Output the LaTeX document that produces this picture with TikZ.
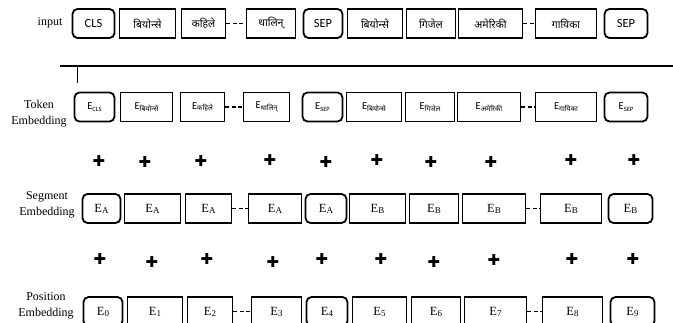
\documentclass[tikz,border=0pt]{standalone}
\usepackage{fontspec}
\setmainfont{Liberation Serif}
\newfontfamily\calfont{Carlito}
\newfontfamily\devafont[Script=Devanagari]{Noto Sans}
\newfontfamily\djvfont{DejaVu Sans}
\newcommand\tokE[1]{{\calfont\fontsize{10.5}{10.5}\selectfont E\raisebox{-1.5pt}{\fontsize{6.5}{6.5}\selectfont #1}}}
\newcommand\tokD[1]{{\calfont\fontsize{10.5}{10.5}\selectfont E}\raisebox{-1.5pt}{\devafont\fontsize{7}{7}\selectfont #1}}
\newcommand\segE[1]{{\fontsize{12.5}{12.5}\selectfont E\raisebox{-1pt}{\fontsize{9}{9}\selectfont #1}}}
\begin{document}
\begin{tikzpicture}[x=1pt,y=-1pt,
  bx/.style={draw, line width=1.8pt, inner sep=0pt, minimum width=#1pt},
  rbx/.style={bx=#1, rounded corners=5pt},
  h1/.style={minimum height=29pt},
  dsh/.style={line width=1.8pt, dash pattern=on 4pt off 2.5pt},
  lbl/.style={font=\fontsize{12}{16}\selectfont, align=center, inner sep=0pt},
  wd/.style={font=\calfont\fontsize{12.5}{12.5}\selectfont},
  dv/.style={font=\devafont\fontsize{10.5}{10.5}\selectfont},
  pls/.style={font=\djvfont\fontsize{15}{15}\selectfont, inner sep=0pt}]
\useasboundingbox (0,0) rectangle (673,322);
% labels
\node[lbl] (Linput) at (50,23) {input};
\node[lbl] (Ltok) at (39,114) {Token\\Embedding};
\node[lbl] (Lseg) at (47,205) {Segment\\Embedding};
\node[lbl] (Lpos) at (46,306) {Position\\Embedding};
% row 1
\begin{scope}[every node/.append style={h1}]
\node[rbx=42, wd] (a1) at (93.5,23.5) {CLS};
\node[bx=56, dv] (a2) at (147.5,23.5) {बियोन्से};
\node[bx=44, dv] (a3) at (203.5,23.5) {कहिले};
\node[bx=49, dv] (a4) at (271,23.5) {थालिन्};
\node[rbx=39, wd] (a5) at (323,23.5) {SEP};
\node[bx=55, dv] (a6) at (375,23.5) {बियोन्से};
\node[bx=49, dv] (a7) at (431,23.5) {गिजेल};
\node[bx=64, dv] (a8) at (490.5,23.5) {अमेरिकी};
\node[bx=61, dv] (a9) at (566,23.5) {गायिका};
\node[rbx=43, wd] (a10) at (626,23.5) {SEP};
\end{scope}
\draw[dsh] (a3.east) -- (a4.west);
\draw[dsh] (a8.east) -- (a9.west);
% separator line
\coordinate (hl) at (60,66);
\coordinate (hr) at (673,66);
\coordinate (vt) at (77,66);
\coordinate (vb) at (77,83);
\draw[line width=2.2pt] (hl) -- (hr);
\draw[line width=0.9pt] (vt) -- (vb);
% row 2
\begin{scope}[every node/.append style={h1}]
\node[rbx=40] (b1) at (94.5,107) {\tokE{CLS}};
\node[bx=52] (b2) at (146.5,107) {\tokD{बियोन्से}};
\node[bx=44] (b3) at (202.5,107) {\tokD{कहिले}};
\node[bx=46] (b4) at (266.5,107) {\tokD{थालिन्}};
\node[rbx=40] (b5) at (322.5,107) {\tokE{SEP}};
\node[bx=55] (b6) at (374,107) {\tokD{बियोन्से}};
\node[bx=49] (b7) at (430,107) {\tokD{गिजेल}};
\node[bx=63] (b8) at (489,107) {\tokD{अमेरिकी}};
\node[bx=61] (b9) at (566,107) {\tokD{गायिका}};
\node[rbx=43] (b10) at (626,107) {\tokE{SEP}};
\end{scope}
\draw[dsh] (b3.east) -- (b4.west);
\draw[dsh] (b8.east) -- (b9.west);
% plus row 1
\node[pls] (p1) at (99,161) {✚};
\node[pls] (p2) at (145,162.5) {✚};
\node[pls] (p3) at (201,161) {✚};
\node[pls] (p4) at (270,160) {✚};
\node[pls] (p5) at (326,162.5) {✚};
\node[pls] (p6) at (377,160) {✚};
\node[pls] (p7) at (431,162.5) {✚};
\node[pls] (p8) at (491,162.5) {✚};
\node[pls] (p9) at (571,160) {✚};
\node[pls] (p10) at (634,160) {✚};
% row 3
\begin{scope}[every node/.append style={h1}]
\node[rbx=38] (c1) at (101.5,208.5) {\segE{A}};
\node[bx=56] (c2) at (152.5,208.5) {\segE{A}};
\node[bx=46] (c3) at (208.5,208.5) {\segE{A}};
\node[bx=53] (c4) at (275,208.5) {\segE{A}};
\node[rbx=41] (c5) at (326,208.5) {\segE{A}};
\node[bx=56] (c6) at (377.5,208.5) {\segE{B}};
\node[bx=49] (c7) at (434,208.5) {\segE{B}};
\node[bx=63] (c8) at (494,208.5) {\segE{B}};
\node[bx=61] (c9) at (571,208.5) {\segE{B}};
\node[rbx=44] (c10) at (630.5,208.5) {\segE{B}};
\end{scope}
\draw[dsh] (c3.east) -- (c4.west);
\draw[dsh] (c8.east) -- (c9.west);
% plus row 2
\node[pls] (q1) at (100,259) {✚};
\node[pls] (q2) at (152,262) {✚};
\node[pls] (q3) at (207,259) {✚};
\node[pls] (q4) at (273,262) {✚};
\node[pls] (q5) at (322,259) {✚};
\node[pls] (q6) at (381,259) {✚};
\node[pls] (q7) at (434,262) {✚};
\node[pls] (q8) at (494,260) {✚};
\node[pls] (q9) at (572,259) {✚};
\node[pls] (q10) at (633,259) {✚};
% row 4
\begin{scope}[every node/.append style={h1}]
\node[rbx=39] (d1) at (103,311.5) {\segE{0}};
\node[bx=55] (d2) at (155,311.5) {\segE{1}};
\node[bx=45] (d3) at (210,311.5) {\segE{2}};
\node[bx=50] (d4) at (276.5,311.5) {\segE{3}};
\node[rbx=41] (d5) at (327,311.5) {\segE{4}};
\node[bx=54] (d6) at (379.5,311.5) {\segE{5}};
\node[bx=49] (d7) at (436,311.5) {\segE{6}};
\node[bx=62] (d8) at (495.5,311.5) {\segE{7}};
\node[bx=60] (d9) at (572.5,311.5) {\segE{8}};
\node[rbx=44] (d10) at (632.5,311.5) {\segE{9}};
\end{scope}
\draw[dsh] (d3.east) -- (d4.west);
\draw[dsh] (d8.east) -- (d9.west);
\end{tikzpicture}
\end{document}
